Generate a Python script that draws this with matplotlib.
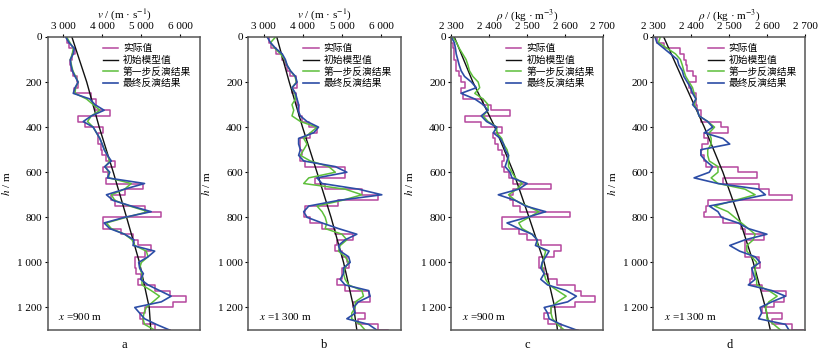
import numpy as np
import matplotlib.pyplot as plt

plt.rcParams['font.family'] = ['Liberation Serif', 'Noto Sans CJK SC']
plt.rcParams['mathtext.fontset'] = 'stix'

# depth grid (m), 25 m step
h = np.arange(0, 1301, 25)

# initial model values (depth knots)
init_h = [0, 200, 400, 600, 800, 1000, 1200, 1300]
init_va = [3220, 3600, 3920, 4280, 4620, 4950, 5200, 5240]
init_vb = [3330, 3650, 3990, 4360, 4720, 5040, 5300, 5380]
init_rc = [2308, 2357, 2415, 2464, 2505, 2545, 2573, 2580]
init_rd = [2327, 2380, 2434, 2483, 2525, 2563, 2595, 2608]

# panel a: velocity, x = 900 m
true_va = [3085, 3145, 3300, 3230, 3170, 3195, 3255, 3340, 3365, 3280, 3720, 3850, 3810,
           4190, 3380, 3550, 4020, 3890, 3890, 3960, 3995, 4105, 4320, 4020, 4150, 4105,
           5040, 4570, 4230, 4320, 5080, 5510, 4020, 4020, 4490, 4785, 4910, 5250, 5080,
           4830, 4830, 4870, 5000, 4910, 5340, 5720, 6145, 5805, 5080, 4955, 5040, 5340, 5720]
first_va = [3085, 3170, 3255, 3230, 3180, 3210, 3245, 3315, 3380, 3315, 3300, 3595, 3765,
            3935, 3720, 3620, 3765, 3850, 3935, 3995, 4060, 4130, 4190, 4075, 4165, 4165,
            4740, 4570, 4230, 4320, 4700, 5170, 4610, 4105, 4230, 4570, 4760, 4830, 5125,
            5170, 5000, 4955, 5015, 5015, 5015, 5250, 5465, 5295, 5125, 5065, 5040, 5080, 5340]
final_va = [3060, 3145, 3280, 3255, 3180, 3195, 3230, 3300, 3380, 3300, 3255, 3680, 3810,
            4045, 3720, 3510, 3765, 3850, 3935, 3995, 4045, 4130, 4230, 4060, 4190, 4130,
            5080, 4570, 4105, 4275, 4740, 5250, 4570, 4045, 4190, 4570, 4810, 4785, 5340,
            5170, 4930, 4955, 5050, 4980, 5170, 5465, 5760, 5510, 4830, 4955, 5080, 5380, 5720]

# panel b: velocity, x = 1300 m
true_vb = [3130, 3170, 3300, 3470, 3550, 3595, 3680, 3810, 3850, 3720, 3810, 3850, 3890,
           3890, 3975, 4150, 4360, 4190, 3935, 3935, 3975, 3935, 4060, 5080, 5080, 4320,
           4570, 5510, 5930, 4910, 4060, 4020, 4190, 4490, 4830, 5295, 4870, 4830, 5000,
           5125, 5170, 5000, 5000, 4870, 5080, 5680, 5720, 5295, 5340, 5590, 5420, 5930, 6190]
first_vb = [3300, 3170, 3280, 3425, 3535, 3595, 3680, 3795, 3835, 3720, 3795, 3810, 3720,
            3765, 3720, 3935, 4360, 4190, 4020, 4105, 4020, 3935, 4190, 4660, 4830, 4150,
            4020, 5080, 5510, 5000, 4360, 4490, 4570, 4610, 4570, 5000, 5125, 4955, 4910,
            5080, 5170, 5080, 5040, 5080, 5170, 5510, 5550, 5340, 5340, 5250, 5250, 5465, 5590]
final_vb = [3085, 3170, 3300, 3470, 3550, 3595, 3680, 3810, 3850, 3720, 3810, 3850, 3890,
            3875, 3935, 4105, 4400, 4275, 3890, 3890, 3935, 3890, 4020, 4830, 5125, 4360,
            4490, 5420, 6020, 4910, 4150, 4020, 4105, 4490, 4910, 5380, 5080, 4910, 4955,
            5170, 5210, 5040, 5040, 4955, 5080, 5680, 5720, 5420, 5295, 5340, 5125, 5680, 5890]

# panel c: density, x = 900 m
true_rc = [2300, 2304, 2308, 2308, 2313, 2313, 2321, 2326, 2335, 2326, 2330, 2384, 2406,
           2455, 2335, 2379, 2433, 2411, 2415, 2424, 2433, 2438, 2433, 2438, 2451, 2464,
           2562, 2464, 2455, 2464, 2482, 2612, 2433, 2433, 2478, 2500, 2536, 2589, 2571,
           2531, 2531, 2545, 2554, 2580, 2625, 2643, 2679, 2625, 2563, 2545, 2554, 2589, 2634]
first_rc = [2304, 2314, 2321, 2330, 2339, 2344, 2348, 2357, 2371, 2375, 2362, 2384, 2397,
            2397, 2384, 2397, 2420, 2420, 2433, 2438, 2447, 2451, 2451, 2451, 2460, 2469,
            2487, 2473, 2451, 2469, 2500, 2531, 2505, 2478, 2487, 2513, 2527, 2527, 2549,
            2545, 2540, 2540, 2545, 2549, 2558, 2580, 2603, 2580, 2563, 2563, 2567, 2580, 2598]
final_rc = [2300, 2308, 2311, 2313, 2317, 2321, 2326, 2335, 2353, 2366, 2326, 2362, 2384,
            2397, 2379, 2393, 2420, 2411, 2429, 2438, 2442, 2451, 2447, 2442, 2455, 2460,
            2500, 2478, 2424, 2469, 2496, 2549, 2500, 2447, 2478, 2513, 2527, 2522, 2558,
            2549, 2540, 2536, 2545, 2536, 2554, 2603, 2630, 2607, 2545, 2554, 2558, 2589, 2630]

# panel d: density, x = 1300 m
true_rd = [2309, 2327, 2371, 2380, 2385, 2389, 2403, 2412, 2394, 2398, 2412, 2412, 2416,
           2425, 2425, 2479, 2496, 2434, 2443, 2429, 2425, 2434, 2438, 2523, 2572, 2483,
           2577, 2604, 2666, 2443, 2438, 2434, 2483, 2532, 2541, 2590, 2541, 2541, 2541,
           2577, 2581, 2559, 2559, 2554, 2585, 2648, 2643, 2617, 2585, 2639, 2612, 2666, 2693]
first_rd = [2318, 2313, 2336, 2358, 2371, 2376, 2380, 2385, 2394, 2403, 2407, 2412, 2407,
            2416, 2420, 2443, 2461, 2447, 2452, 2452, 2443, 2443, 2447, 2470, 2470, 2452,
            2470, 2541, 2568, 2514, 2461, 2496, 2514, 2532, 2550, 2568, 2563, 2546, 2546,
            2559, 2572, 2568, 2568, 2572, 2572, 2604, 2626, 2604, 2595, 2599, 2599, 2617, 2635]
final_rd = [2304, 2309, 2327, 2345, 2363, 2367, 2376, 2380, 2389, 2398, 2403, 2412, 2403,
            2416, 2420, 2443, 2456, 2434, 2483, 2501, 2425, 2425, 2438, 2456, 2447, 2407,
            2470, 2577, 2595, 2523, 2447, 2470, 2479, 2523, 2550, 2599, 2541, 2501, 2527,
            2568, 2581, 2559, 2563, 2568, 2550, 2612, 2648, 2612, 2581, 2585, 2577, 2648, 2657]

labels = ['实际值', '初始模型值', '第一步反演结果', '最终反演结果']
panel_tags = ['a', 'b', 'c', 'd']
pos_text = ['900 m', '1 300 m', '900 m', '1 300 m']

c_true = '#b5479e'
c_init = '#111111'
c_first = '#5dbf3a'
c_final = '#2c4da6'

fig = plt.figure(figsize=(8.22, 3.51), dpi=100)
lefts = [0.058, 0.302, 0.549, 0.795]
widths = [0.1853, 0.1853, 0.1845, 0.1846]

panels = [
    (true_va, init_va, first_va, final_va),
    (true_vb, init_vb, first_vb, final_vb),
    (true_rc, init_rc, first_rc, final_rc),
    (true_rd, init_rd, first_rd, final_rd),
]


def fmt(v):
    return f'{int(v):,}'.replace(',', ' ')


for i, (tr, ini, fi, fn) in enumerate(panels):
    ax = fig.add_axes([lefts[i], 0.0598, widths[i], 0.8348])
    ax.plot(tr, h, color=c_true, lw=1.1, drawstyle='steps-pre', label=labels[0])
    ax.plot(ini, init_h, color=c_init, lw=1.0, label=labels[1])
    ax.plot(fi, h, color=c_first, lw=1.1, label=labels[2])
    ax.plot(fn, h, color=c_final, lw=1.2, label=labels[3])

    ax.set_ylim(1300, 0)
    ax.set_yticks([0, 200, 400, 600, 800, 1000, 1200])
    ax.set_yticklabels([fmt(t) for t in [0, 200, 400, 600, 800, 1000, 1200]])
    ax.xaxis.tick_top()
    ax.xaxis.set_label_position('top')
    if i < 2:
        ax.set_xlim(2600, 6500)
        xt = [3000, 4000, 5000, 6000]
        ax.set_xlabel(r'$v$ / (m · s$^{-1}$)', fontsize=8, labelpad=3)
    else:
        ax.set_xlim(2300, 2700)
        xt = [2300, 2400, 2500, 2600, 2700]
        ax.set_xlabel(r'$\rho$ / (kg · m$^{-3}$)', fontsize=8, labelpad=3)
    ax.set_xticks(xt)
    ax.set_xticklabels([fmt(t) for t in xt])
    ax.set_ylabel(r'$h$ / m', fontsize=8, labelpad=4)
    ax.tick_params(labelsize=8, length=2.5, width=0.8, direction='out', pad=1.5)
    for sp in ax.spines.values():
        sp.set_color('#555555')
        sp.set_linewidth(1.1)

    ax.legend(loc='upper left', bbox_to_anchor=(0.36, 0.975), frameon=False,
              fontsize=7, handlelength=1.6, handletextpad=0.5, labelspacing=0.2,
              borderpad=0, borderaxespad=0)
    ax.text(0.07, 0.035, r'$x$ =' + pos_text[i], transform=ax.transAxes, fontsize=8)
    ax.text(0.5, -0.05, panel_tags[i], transform=ax.transAxes, fontsize=9,
            ha='center', va='center')

fig.savefig('out.png', dpi=100)
